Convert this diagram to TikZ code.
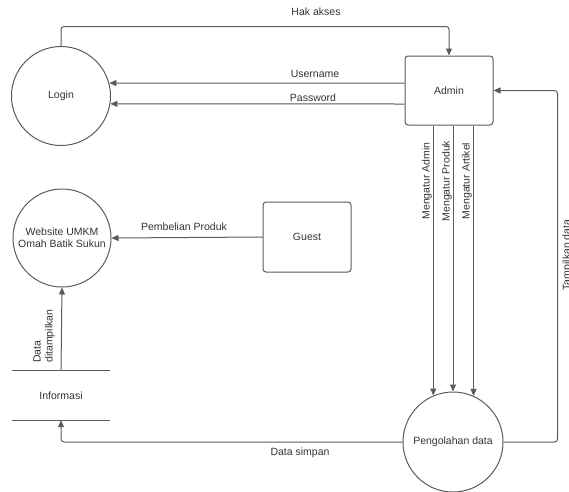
\documentclass[tikz,border=0pt]{standalone}
\usepackage{fontspec}
\setmainfont{Liberation Sans}
\usetikzlibrary{arrows.meta,calc}
\definecolor{linec}{HTML}{5A5A5A}
\definecolor{textc}{HTML}{333333}
\newcommand\lblfont{\fontsize{10.5}{12}\selectfont}
\begin{document}
\begin{tikzpicture}[x=1pt,y=-1pt,
  ln/.style={draw=linec, line width=1pt},
  arr/.style={ln, -{Triangle[length=7pt,width=6pt]}, rounded corners=3pt},
  proc/.style={circle, draw=linec, line width=1pt, inner sep=0pt, align=center, text=textc, font=\lblfont},
  ent/.style={draw=linec, line width=1pt, rounded corners=3pt, minimum width=88pt, minimum height=69pt, text=textc, font=\lblfont},
  lbl/.style={text=textc, font=\lblfont, inner sep=0pt}
]
\useasboundingbox (0,0) rectangle (569,491);

% nodes
\node[proc, minimum size=99pt] (login) at (61,96) {Login};
\node[ent] (admin) at (449,90.5) {Admin};
\node[proc, minimum size=98pt] (web) at (62,238) {Website UMKM\\Omah Batik Sukun};
\node[ent, minimum height=70pt] (guest) at (307,237) {Guest};
\node[text=textc, font=\lblfont, minimum width=98pt, minimum height=49pt, inner sep=0pt] (info) at (61,395.5) {Informasi};
\draw[ln] (info.north west) -- (info.north east);
\draw[ln] (info.south west) -- (info.south east);
\node[proc, minimum size=100pt] (peng) at (453,442) {Pengolahan data};

% connectors
\draw[arr] (login.north) |- ($(admin.north)+(0,-29)$) -- (admin.north);
\node[lbl] at (316,12) {Hak akses};

\draw[arr] ($(admin.west)+(0,-7.5)$) -- (login.15);
\node[lbl] at (315,74) {Username};
\draw[arr] ($(admin.west)+(0,13.5)$) -- (login.-9);
\node[lbl] at (313,98) {Password};

\draw[arr] (peng.east) -| ($(admin.east)+(64,0)$) -- (admin.east);
\node[lbl, rotate=90] at (567.5,255) {Tampilkan data};

\draw[arr] (peng.113 |- admin.south) -- (peng.113);
\draw[arr] (peng.90 |- admin.south) -- (peng.90);
\draw[arr] (peng.66 |- admin.south) -- (peng.66);
\node[lbl, rotate=90, anchor=south, inner sep=1pt] at (433,181) {Mengatur Admin};
\node[lbl, rotate=90, anchor=south, inner sep=1pt] at (453,181) {Mengatur Produk};
\node[lbl, rotate=90, anchor=south, inner sep=1pt] at (473,181) {Mengatur Artikel};

\draw[arr] (guest.west) -- (web.east);
\node[lbl] at (184,227) {Pembelian Produk};

\draw[arr] (info.north) -- (web.south);
\node[lbl, rotate=90, anchor=south west, align=left, inner sep=1pt] at (56,364) {Data\\ditampilkan};

\draw[arr] (peng.west) -| (info.south);
\node[lbl] at (300,453) {Data simpan};
\end{tikzpicture}
\end{document}
